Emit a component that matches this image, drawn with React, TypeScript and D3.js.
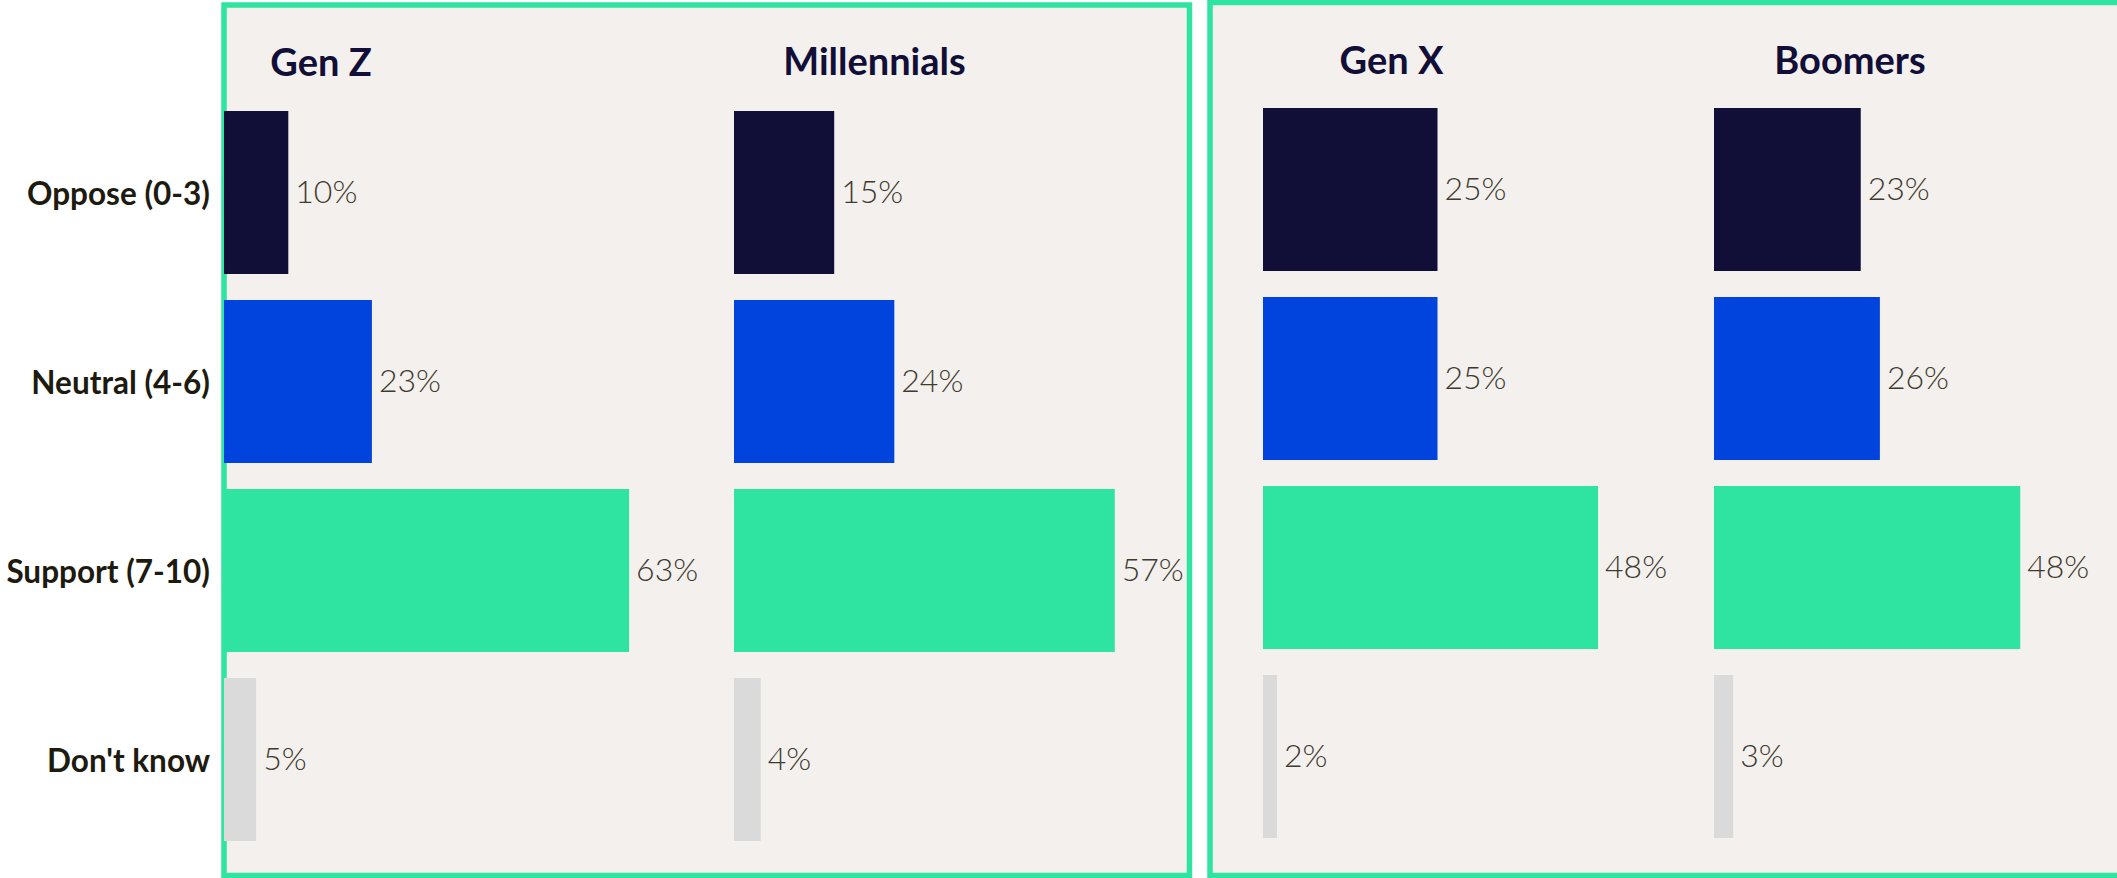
import React from "react";
import * as d3 from "d3";

// ── Data ──────────────────────────────────────────────────────────────────────

const CATEGORIES = ["Oppose (0-3)", "Neutral (4-6)", "Support (7-10)", "Don't know"];
const GENERATIONS = ["Gen Z", "Millennials", "Gen X", "Boomers"];

const GEN_Z = [10, 23, 63, 5];
const MILLENNIALS = [15, 24, 57, 4];
const GEN_X = [25, 25, 48, 2];
const BOOMERS = [23, 26, 48, 3];

const SERIES = [GEN_Z, MILLENNIALS, GEN_X, BOOMERS];

// ── Layout / style ────────────────────────────────────────────────────────────

const WIDTH = 2117;
const HEIGHT = 878;

const BAR_COLORS = ["#110e38", "#0044dd", "#2fe3a0", "#dadada"];
const BORDER = "#2fe3a0";
const PANEL_BG = "#f3f0ed";
const TITLE_COLOR = "#110e38";
const LABEL_COLOR = "#1d1a0f";
const VALUE_COLOR = "#3e3a2e";
const FONT = "Lato, 'Open Sans', sans-serif";

// two framed panels, each holding two small multiples
const PANELS = [
  { x: 224, y: 5, x2: 1189.5, y2: 875.5 },
  { x: 1210, y: 2.5, x2: 2140, y2: 875.5 },
];

// per small multiple: bar origin, pixels for 100%, title centre, vertical range
const PLOTS = [
  { x0: 224, span: 643, titleX: 321, titleY: 76, y0: 111, y1: 841 },
  { x0: 734, span: 668, titleX: 874.5, titleY: 75, y0: 111, y1: 841 },
  { x0: 1263, span: 698, titleX: 1391.5, titleY: 74, y0: 108, y1: 838 },
  { x0: 1714, span: 638, titleX: 1850, titleY: 74, y0: 108, y1: 838 },
];

const PADDING_INNER = 26 / 189;

export default function App() {
  const labelScale = d3
    .scaleBand()
    .domain(CATEGORIES)
    .range([PLOTS[0].y0, PLOTS[0].y1])
    .paddingInner(PADDING_INNER)
    .paddingOuter(0);

  return (
    <svg
      width={WIDTH}
      height={HEIGHT}
      style={{ position: "absolute", left: 0, top: 0, background: "#fff" }}
      fontFamily={FONT}
    >
      {PANELS.map((p, i) => (
        <rect
          key={i}
          x={p.x}
          y={p.y}
          width={p.x2 - p.x}
          height={p.y2 - p.y}
          fill={PANEL_BG}
          stroke={BORDER}
          strokeWidth={5.5}
        />
      ))}

      {/* category labels */}
      {CATEGORIES.map((c) => (
        <text
          key={c}
          x={210}
          y={(labelScale(c) ?? 0) + labelScale.bandwidth() / 2}
          textAnchor="end"
          dominantBaseline="central"
          fontSize={31.5}
          fontWeight={700}
          fill={LABEL_COLOR}
        >
          {c}
        </text>
      ))}

      {PLOTS.map((p, gi) => {
        const x = d3.scaleLinear().domain([0, 100]).range([p.x0, p.x0 + p.span]);
        const y = d3
          .scaleBand()
          .domain(CATEGORIES)
          .range([p.y0, p.y1])
          .paddingInner(PADDING_INNER)
          .paddingOuter(0);
        const values = SERIES[gi];
        return (
          <g key={GENERATIONS[gi]}>
            <text
              x={p.titleX}
              y={p.titleY}
              textAnchor="middle"
              fontSize={38}
              fontWeight={700}
              fill={TITLE_COLOR}
            >
              {GENERATIONS[gi]}
            </text>
            {CATEGORIES.map((c, ci) => (
              <rect
                key={c}
                x={x(0)}
                y={y(c)}
                width={x(values[ci]) - x(0)}
                height={y.bandwidth()}
                fill={BAR_COLORS[ci]}
              />
            ))}
            {CATEGORIES.map((c, ci) => (
              <text
                key={c}
                x={x(values[ci]) + 7}
                y={(y(c) ?? 0) + y.bandwidth() / 2 - 2}
                dominantBaseline="central"
                fontSize={32}
                fontWeight={300}
                fill={VALUE_COLOR}
              >
                {`${values[ci]}%`}
              </text>
            ))}
          </g>
        );
      })}
    </svg>
  );
}
